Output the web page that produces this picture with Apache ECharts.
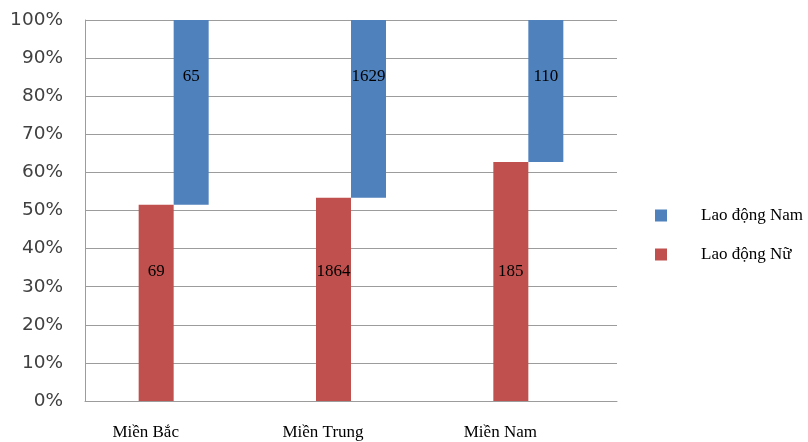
<!DOCTYPE html>
<html>
<head>
<meta charset="utf-8">
<script src="https://cdn.jsdelivr.net/npm/echarts@6/dist/echarts.min.js"></script>
<style>
  html, body { margin: 0; padding: 0; background: #fff; }
  #chart { width: 808px; height: 442px; }
</style>
</head>
<body>
<div id="chart"></div>
<script>
// Regions and worker counts per region
const regions = ['Miền Bắc', 'Miền Trung', 'Miền Nam'];
const maleWorkers = [65, 1629, 110];     // Lao động Nam
const femaleWorkers = [69, 1864, 185];   // Lao động Nữ
const yTicks = [0, 10, 20, 30, 40, 50, 60, 70, 80, 90, 100];

// Share of each group within its region (percent)
const femaleShare = femaleWorkers.map((f, i) => f / (f + maleWorkers[i]) * 100);
const maleShare = maleWorkers.map((m, i) => m / (femaleWorkers[i] + m) * 100);

const BLUE = '#4F81BD';
const RED = '#C0504D';
const GRAY = '#9c9c9c';
const serif = '"Liberation Serif", "Times New Roman", serif';

const chart = echarts.init(document.getElementById('chart'), null, { renderer: 'canvas' });

chart.setOption({
  animation: false,
  backgroundColor: '#fff',
  grid: { left: 85, right: 191, top: 20, bottom: 41, containLabel: false },
  legend: {
    orient: 'vertical',
    left: 650,
    top: 202,
    itemWidth: 12,
    itemHeight: 12,
    itemGap: 22,
    icon: 'rect',
    data: ['Lao động Nam', 'Lao động Nữ'],
    textStyle: { fontFamily: serif, fontSize: 17, color: '#000', padding: [0, 0, 0, 29] }
  },
  xAxis: {
    type: 'category',
    data: regions,
    axisLine: { show: true, lineStyle: { color: GRAY, width: 1 } },
    axisTick: { show: false },
    axisLabel: {
      fontFamily: serif, fontSize: 17, color: '#000',
      margin: 23, padding: [0, 56, 0, 0]
    }
  },
  yAxis: {
    type: 'value',
    min: yTicks[0],
    max: yTicks[yTicks.length - 1],
    interval: yTicks[1] - yTicks[0],
    axisLine: { show: true, lineStyle: { color: GRAY, width: 1 } },
    axisTick: { show: false },
    splitLine: { show: true, lineStyle: { color: GRAY, width: 1 } },
    axisLabel: {
      formatter: v => v + '%',
      fontFamily: '"DejaVu Sans", Verdana, sans-serif',
      fontSize: 18.5, color: '#404040', margin: 22
    }
  },
  series: [
    {
      name: 'Lao động Nữ',
      type: 'bar',
      barWidth: 35,
      barGap: '0%',
      itemStyle: { color: RED },
      data: femaleShare,
      label: {
        show: true,
        position: 'insideBottom',
        distance: 121,
        fontFamily: serif, fontSize: 17, color: '#000',
        formatter: p => String(femaleWorkers[p.dataIndex])
      }
    },
    {
      // invisible base so the male share starts where the female share ends
      name: 'base',
      type: 'bar',
      stack: 'male',
      barWidth: 35,
      barGap: '0%',
      itemStyle: { color: 'rgba(0,0,0,0)' },
      emphasis: { disabled: true },
      tooltip: { show: false },
      data: femaleShare
    },
    {
      name: 'Lao động Nam',
      type: 'bar',
      stack: 'male',
      barWidth: 35,
      barGap: '0%',
      itemStyle: { color: BLUE },
      data: maleShare,
      label: {
        show: true,
        position: 'insideTop',
        distance: 48,
        fontFamily: serif, fontSize: 17, color: '#000',
        formatter: p => String(maleWorkers[p.dataIndex])
      }
    }
  ]
});
</script>
</body>
</html>
